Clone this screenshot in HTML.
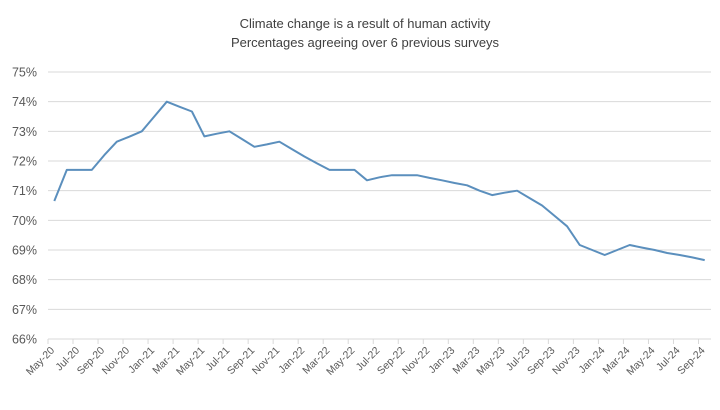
<!DOCTYPE html>
<html><head><meta charset="utf-8"><style>
body{margin:0;background:#fff;}
svg text{font-family:"Liberation Sans",sans-serif;fill:#595959;}
</style></head><body>
<svg id="chart" width="720" height="405">
<text x="365" y="28" text-anchor="middle" font-size="13" style="fill:#404040">Climate change is a result of human activity</text>
<text x="365" y="47" text-anchor="middle" font-size="13" style="fill:#404040">Percentages agreeing over 6 previous surveys</text>
<g id="grid"></g><g id="xaxis"></g><g id="series"></g>
</svg>
<script>
const yTicks=[66,67,68,69,70,71,72,73,74,75];
const tickLabels=["May-20","Jul-20","Sep-20","Nov-20","Jan-21","Mar-21","May-21","Jul-21","Sep-21","Nov-21","Jan-22","Mar-22","May-22","Jul-22","Sep-22","Nov-22","Jan-23","Mar-23","May-23","Jul-23","Sep-23","Nov-23","Jan-24","Mar-24","May-24","Jul-24","Sep-24"];
const values=[70.65,71.7,71.7,71.7,72.2,72.65,72.82,73.0,73.5,74.0,73.83,73.67,72.83,72.92,73.0,72.74,72.48,72.56,72.65,72.4,72.15,71.92,71.7,71.7,71.7,71.35,71.45,71.52,71.52,71.52,71.43,71.35,71.26,71.18,71.0,70.85,70.93,71.0,70.75,70.5,70.15,69.8,69.17,69.0,68.83,69.0,69.17,69.08,69.0,68.9,68.83,68.75,68.66];
const NS="http://www.w3.org/2000/svg";
const x0=48,x1=711,y0=339,y1=72,yMin=66,yMax=75;
const n=values.length,step=(x1-x0)/n;
const xS=i=>x0+step*(i+0.5);
const yS=v=>y0-(v-yMin)/(yMax-yMin)*(y0-y1);
function mk(t,a,p){const e=document.createElementNS(NS,t);for(const k in a)e.setAttribute(k,a[k]);p.appendChild(e);return e;}
const grid=document.getElementById('grid');
yTicks.forEach(v=>{
 const l=mk('line',{x1:x0,x2:x1,y1:yS(v),y2:yS(v),stroke:'#d9d9d9','stroke-width':1},grid);
 
 
 const t=mk('text',{x:37,y:yS(v)+4.5,'text-anchor':'end','font-size':12.5},grid);
 t.textContent=v+'%';
 
 
});
const xa=document.getElementById('xaxis');
tickLabels.forEach((s,j)=>{
 const x=x0+step*2*j;
 const tk=mk('line',{x1:x,x2:x,y1:y0,y2:y0+5,stroke:'#d9d9d9'},xa);
 
 
 const t=mk('text',{x:x+7,y:y0+12,'text-anchor':'end','font-size':10.5,transform:`rotate(-45 ${x+7} ${y0+12})`},xa);
 t.textContent=s;
 
 
});
const d=values.map((v,i)=>(i?'L':'M')+xS(i).toFixed(1)+' '+yS(v).toFixed(1)).join(' ');
const p=mk('path',{d:d,fill:'none',stroke:'#5b8fbd','stroke-width':2,'stroke-linejoin':'round'},document.getElementById('series'));


</script>
</body></html>
